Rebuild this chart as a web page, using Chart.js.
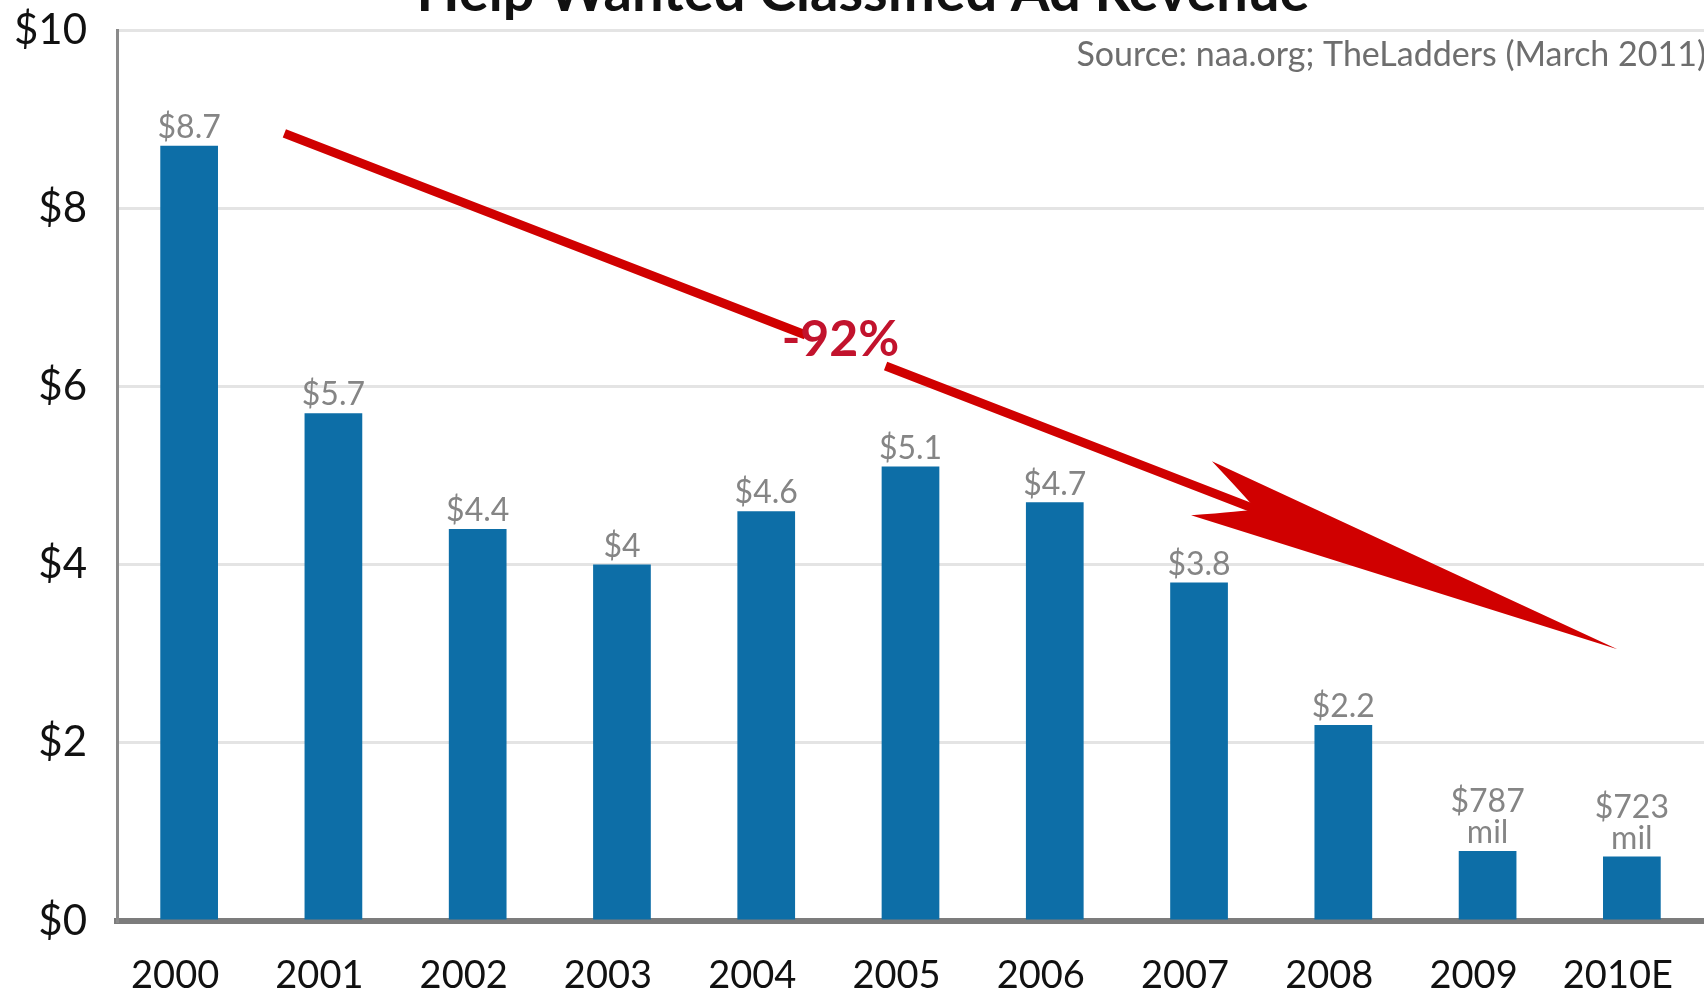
<!DOCTYPE html>
<html>
<head>
<meta charset="utf-8">
<title>Help Wanted Classified Ad Revenue</title>
<script src="https://cdn.jsdelivr.net/npm/chart.js@4.4.1/dist/chart.umd.min.js"></script>
<style>
  html, body { margin: 0; padding: 0; background: #fff; overflow: hidden; }
  canvas { display: block; }
</style>
</head>
<body>
<canvas id="revenueChart" width="1704" height="994"></canvas>
<script>
/* DATA */
const years = ["2000", "2001", "2002", "2003", "2004", "2005", "2006", "2007", "2008", "2009", "2010E"];
const revenue = [8.7, 5.7, 4.4, 4.0, 4.6, 5.1, 4.7, 3.8, 2.2, 0.787, 0.723]; // $ billions
const yTicks = [0, 2, 4, 6, 8, 10];

const titleText = "Help Wanted Classified Ad Revenue";
const sourceText = "Source: naa.org; TheLadders (March 2011)";

// trend arrow, in (category index, $ billions)
const trendStart = [0.66, 8.84];
const trendEnd = [9.9, 3.05];
const trendLabel = "-92%";

const FONT = "Lato, 'Open Sans', sans-serif";
const RED = "#d00000";

/* HELPERS */
function valueLabel(v) {
  if (v < 1) return ["$" + Math.round(v * 1000), "mil"];
  return ["$" + v];
}

function toPixel(chart, pt) {
  return [chart.scales.x.getPixelForValue(pt[0]), chart.scales.y.getPixelForValue(pt[1])];
}

/* PLUGIN: value labels, title, source, trend arrow */
const decorations = {
  id: "decorations",
  afterDatasetsDraw(chart) {
    const ctx = chart.ctx;
    const meta = chart.getDatasetMeta(0);

    // value labels over bars
    ctx.save();
    ctx.font = "32px " + FONT;
    ctx.fillStyle = "#858585";
    ctx.textAlign = "center";
    ctx.textBaseline = "middle";
    meta.data.forEach((bar, i) => {
      const lines = valueLabel(revenue[i]);
      lines.slice().reverse().forEach((line, k) => {
        ctx.fillText(line, bar.x, bar.y - 18 - k * 31);
      });
    });
    ctx.restore();

    // trend arrow
    const [x0, y0] = toPixel(chart, trendStart);
    const [x1, y1] = toPixel(chart, trendEnd);
    const dx = x1 - x0, dy = y1 - y0;
    const len = Math.hypot(dx, dy);
    const ux = dx / len, uy = dy / len;
    const nx = -uy, ny = ux;
    const at = (t, back, side) => [x0 + dx * t - ux * back + nx * side, y0 + dy * t - uy * back + ny * side];

    const gapFrom = 0.391, gapTo = 0.451;
    const notchBack = 388, barbBack = 446, barbSide = 29;

    ctx.save();
    ctx.strokeStyle = RED;
    ctx.lineWidth = 9;
    ctx.lineCap = "butt";
    ctx.beginPath();
    ctx.moveTo(x0, y0);
    ctx.lineTo(...at(gapFrom, 0, 0));
    ctx.moveTo(...at(gapTo, 0, 0));
    ctx.lineTo(...at(1, notchBack - 10, 0));
    ctx.stroke();

    ctx.fillStyle = RED;
    ctx.beginPath();
    ctx.moveTo(x1, y1);
    ctx.lineTo(...at(1, barbBack, -barbSide));
    ctx.quadraticCurveTo(...at(1, notchBack + 10, -6), ...at(1, notchBack, 0));
    ctx.quadraticCurveTo(...at(1, notchBack + 10, 6), ...at(1, barbBack, barbSide));
    ctx.closePath();
    ctx.fill();

    const [tx, ty] = at(0.415, 0, -8);
    ctx.font = "bold 50px " + FONT;
    ctx.fillStyle = "#c2132d";
    ctx.textAlign = "center";
    ctx.textBaseline = "middle";
    ctx.fillText(trendLabel, tx, ty);
    ctx.restore();
  },
  afterDraw(chart) {
    const ctx = chart.ctx;
    ctx.save();
    ctx.font = "bold 56px " + FONT;
    ctx.fillStyle = "#111";
    ctx.textAlign = "center";
    ctx.textBaseline = "alphabetic";
    ctx.fillText(titleText, 863, 11);

    ctx.font = "34px " + FONT;
    ctx.fillStyle = "#6e6e6e";
    ctx.textAlign = "right";
    ctx.textBaseline = "middle";
    ctx.fillText(sourceText, 1706, 55);
    ctx.restore();
  }
};

/* CHART */
new Chart(document.getElementById("revenueChart"), {
  type: "bar",
  data: {
    labels: years,
    datasets: [{
      label: "Revenue",
      data: revenue,
      backgroundColor: "#0d6ea7",
      borderWidth: 0,
      barPercentage: 0.4,
      categoryPercentage: 1
    }]
  },
  options: {
    responsive: false,
    animation: false,
    devicePixelRatio: 1,
    layout: { padding: { top: 30, left: 0, right: 0, bottom: 0 } },
    plugins: {
      legend: { display: false },
      tooltip: { enabled: false }
    },
    scales: {
      x: {
        grid: { display: false, drawTicks: false },
        border: { display: true, color: "#7c7c7c", width: 6 },
        ticks: { color: "#111", font: { family: FONT, size: 38 }, padding: 32, labelOffset: -14, maxRotation: 0 },
        afterFit(scale) {
          scale.height = 73;
          scale.paddingLeft = 0;
          scale.paddingRight = 0;
        }
      },
      y: {
        min: 0,
        max: 10,
        grid: { color: "#e4e4e4", lineWidth: 3, drawTicks: false },
        border: { display: true, color: "#8a8a8a", width: 3 },
        ticks: {
          color: "#111",
          font: { family: FONT, size: 42 },
          padding: 30,
          callback: v => "$" + v
        },
        afterBuildTicks(scale) { scale.ticks = yTicks.map(v => ({ value: v })); },
        afterFit(scale) {
          scale.width = 117;
          scale.paddingTop = 0;
          scale.paddingBottom = 0;
        }
      }
    }
  },
  plugins: [decorations]
});
</script>
</body>
</html>
